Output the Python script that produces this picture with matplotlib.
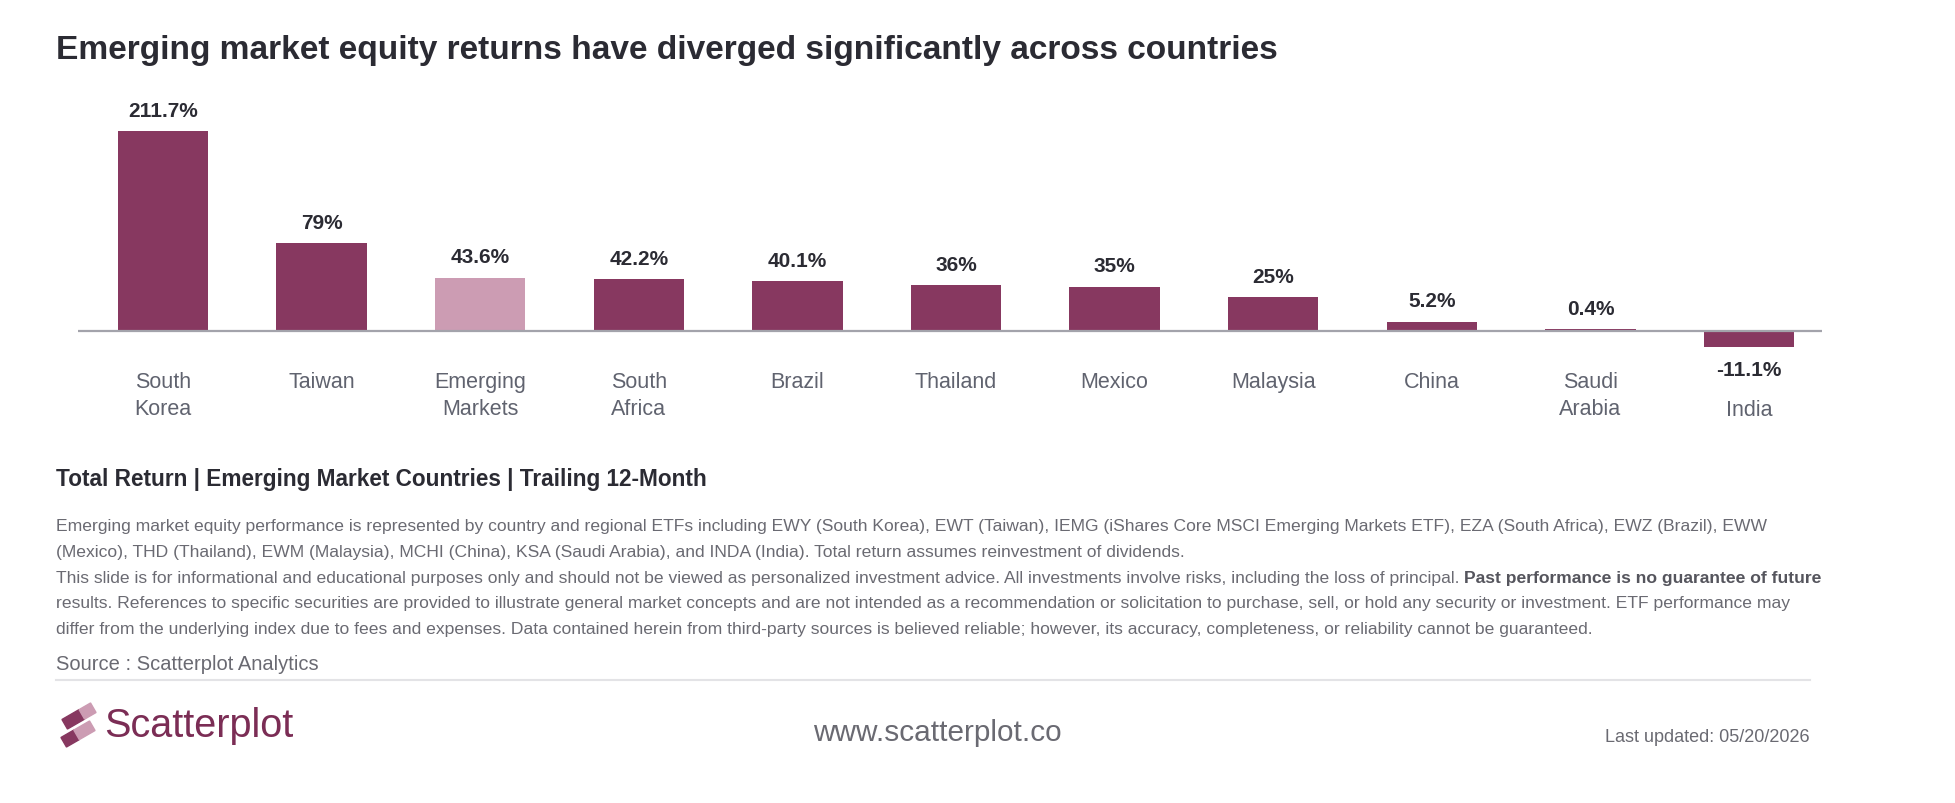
import numpy as np
import matplotlib
matplotlib.use("Agg")
import matplotlib.pyplot as plt
import matplotlib.transforms as mtransforms
from matplotlib.patches import Polygon

plt.rcParams['font.family'] = ['Liberation Sans', 'DejaVu Sans']

# ---- data ----
countries = ["South\nKorea", "Taiwan", "Emerging\nMarkets", "South\nAfrica", "Brazil",
             "Thailand", "Mexico", "Malaysia", "China", "Saudi\nArabia", "India"]
returns = [211.7, 79, 43.6, 42.2, 40.1, 36, 35, 25, 5.2, 0.4, -11.1]
benchmark = "Emerging\nMarkets"

title = "Emerging market equity returns have diverged significantly across countries"
subtitle = "Total Return | Emerging Market Countries | Trailing 12-Month"
note_lines = [
    "Emerging market equity performance is represented by country and regional ETFs including EWY (South Korea), EWT (Taiwan), IEMG (iShares Core MSCI Emerging Markets ETF), EZA (South Africa), EWZ (Brazil), EWW",
    "(Mexico), THD (Thailand), EWM (Malaysia), MCHI (China), KSA (Saudi Arabia), and INDA (India). Total return assumes reinvestment of dividends.",
    "This slide is for informational and educational purposes only and should not be viewed as personalized investment advice. All investments involve risks, including the loss of principal.",
    "results. References to specific securities are provided to illustrate general market concepts and are not intended as a recommendation or solicitation to purchase, sell, or hold any security or investment. ETF performance may",
    "differ from the underlying index due to fees and expenses. Data contained herein from third-party sources is believed reliable; however, its accuracy, completeness, or reliability cannot be guaranteed.",
]
note_bold = "Past performance is no guarantee of future"
source = "Source : Scatterplot Analytics"
site = "www.scatterplot.co"
updated = "Last updated: 05/20/2026"

DARK = '#873860'
LIGHT = '#cc9cb3'
TXT = '#2b2b33'
GREY = '#60636f'
NOTE = '#6a6a72'

W, H = 1956, 804
fig = plt.figure(figsize=(W / 100, H / 100), dpi=100)
fig.patch.set_facecolor('white')

def fx(x):
    return x / W
def fy(y):
    return 1 - y / H

# ---- bar chart ----
left_px, right_px, top_px, bot_px, base_px = 78, 1822, 100, 350, 331.5
c0, step = 163, 158.6      # pixel centre of first bar, spacing
k = 2.22                   # pixels per scaled unit

def fwd(v):
    v = np.asarray(v, dtype=float)
    return np.sign(v) * np.abs(v) ** 0.84

def inv(u):
    u = np.asarray(u, dtype=float)
    return np.sign(u) * np.abs(u) ** (1 / 0.84)

ax = fig.add_axes([fx(left_px), fy(bot_px), fx(right_px - left_px), (bot_px - top_px) / H])
ax.set_yscale('function', functions=(fwd, inv))
ax.set_ylim(float(inv(-(bot_px - base_px) / k)), float(inv((base_px - top_px) / k)))
ax.set_xlim((left_px - c0) / step, (right_px - c0) / step)

x = np.arange(len(countries))
colors = [LIGHT if c == benchmark else DARK for c in countries]
ax.bar(x, returns, width=0.57, color=colors, clip_on=False, zorder=2)
ax.axhline(0, color='#a3a3ab', lw=1.6, zorder=3)

for xi, v in zip(x, returns):
    if v >= 0:
        ax.annotate(f"{v:g}%", (xi, v), xytext=(0, 11), textcoords='offset points',
                    ha='center', va='baseline', fontsize=15, weight='bold', color=TXT,
                    annotation_clip=False)
    else:
        ax.annotate(f"{v:g}%", (xi, v), xytext=(0, -9), textcoords='offset points',
                    ha='center', va='top', fontsize=15, weight='bold', color=TXT,
                    annotation_clip=False)

ax.set_xticks(x, countries)
ax.tick_params(axis='x', length=0, pad=15.5, labelsize=15.5, labelcolor=GREY)
plt.setp(ax.get_xticklabels(), linespacing=1.4)
# negative bars push their category label down one line
for lab, v in zip(ax.get_xticklabels(), returns):
    if v < 0:
        lab.set_transform(lab.get_transform() +
                          mtransforms.ScaledTranslation(0, -28 / 100, fig.dpi_scale_trans))
ax.set_yticks([])
ax.yaxis.set_minor_locator(matplotlib.ticker.NullLocator())
for s in ax.spines.values():
    s.set_visible(False)
ax.patch.set_alpha(0)

# ---- texts ----
fig.text(fx(56), fy(59), title, fontsize=24.1, weight='bold', color=TXT, va='baseline')
fig.text(fx(56), fy(486), subtitle, fontsize=16.25, weight='bold', color=TXT, va='baseline')

bg = fig.add_axes([0, 0, 1, 1], zorder=-1)
bg.axis('off')
for i, line in enumerate(note_lines):
    t = fig.text(fx(56), fy(531 + 25.8 * i), line, fontsize=12.6, color=NOTE, va='baseline')
    if i == 2:
        bg.annotate(note_bold, xy=(1, 0), xycoords=t, xytext=(3.5, 0), textcoords='offset points',
                    va='bottom', ha='left', fontsize=12.6, weight='bold', color='#55555d')

fig.text(fx(56), fy(670), source, fontsize=14.5, color=NOTE, va='baseline')
bg.plot([fx(56), fx(1810)], [fy(681), fy(681)], color='#e3e3e6', lw=1.5, transform=fig.transFigure)

# logo
def bar_poly(cx, cy, L, T, s0, s1):
    u = np.array([0.866, -0.5])
    n = np.array([0.5, 0.866])
    c = np.array([cx, cy])
    a = c + u * L * (s0 - 0.5)
    b = c + u * L * (s1 - 0.5)
    pts = [a - n * T / 2, b - n * T / 2, b + n * T / 2, a + n * T / 2]
    return [(fx(p[0]), fy(p[1])) for p in pts]

for cx, cy, split in [(79, 717, 0.6), (78, 735, 0.45)]:
    fig.patches.append(Polygon(bar_poly(cx, cy, 33, 11, 0, split), closed=True, color=DARK,
                               transform=fig.transFigure, figure=fig))
    fig.patches.append(Polygon(bar_poly(cx, cy, 33, 11, split, 1), closed=True, color=LIGHT,
                               transform=fig.transFigure, figure=fig))

fig.text(fx(104), fy(737), "Scatterplot", fontsize=28.5, color='#7b2d55', va='baseline')
fig.text(fx(937), fy(741), site, fontsize=21.4, color=NOTE, va='baseline', ha='center')
fig.text(fx(1810), fy(742), updated, fontsize=13, color=NOTE, va='baseline', ha='right')

fig.savefig("out.png", dpi=100, facecolor='white')
